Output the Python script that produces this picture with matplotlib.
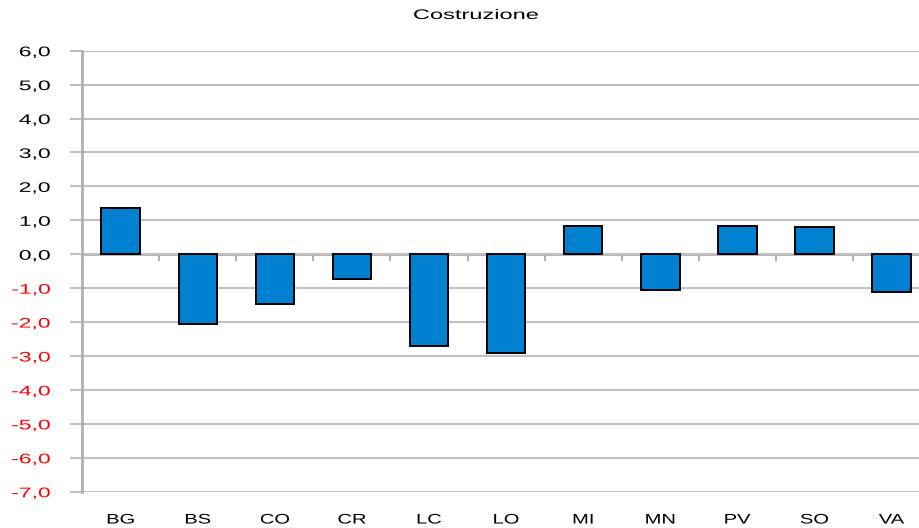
import matplotlib
matplotlib.use("Agg")
import matplotlib.pyplot as plt
import matplotlib.patheffects as pe
from matplotlib.transforms import Affine2D
import numpy as np

provinces = ["BG", "BS", "CO", "CR", "LC", "LO", "MI", "MN", "PV", "SO", "VA"]
values = [1.35, -2.05, -1.47, -0.74, -2.70, -2.90, 0.84, -1.04, 0.84, 0.79, -1.10]
y_ticks = [6, 5, 4, 3, 2, 1, 0, -1, -2, -3, -4, -5, -6, -7]
title = "Costruzione"

plt.rcParams["font.family"] = ["Liberation Sans", "DejaVu Sans"]
plt.rcParams["font.size"] = 10

BAR_COLOR = "#0080d0"
GRID_COLOR = "#c0c0c0"
AXIS_COLOR = "#b0b0b0"
STRETCH = 1.65   # the source renders its text horizontally widened


class Widen(pe.AbstractPathEffect):
    """Draw text glyphs stretched horizontally about a chosen edge."""

    def __init__(self, sx, anchor="center"):
        super().__init__()
        self.sx = sx
        self.anchor = anchor

    def draw_path(self, renderer, gc, tpath, affine, rgbFace=None):
        bb = tpath.get_extents(affine)
        x0 = {"left": bb.x0, "right": bb.x1,
              "center": 0.5 * (bb.x0 + bb.x1)}[self.anchor]
        t = affine + Affine2D().translate(-x0, 0).scale(self.sx, 1).translate(x0, 0)
        renderer.draw_path(gc, tpath, t, rgbFace)


fig = plt.figure(figsize=(9.19, 5.28), dpi=100)
W, H = 919, 528
left_px, right_px = 82.2, 930.0
top_px, bot_px = 50.7, 491.7
ax = fig.add_axes([left_px / W, 1 - bot_px / H,
                   (right_px - left_px) / W, (bot_px - top_px) / H])

x = np.arange(len(provinces))
ax.bar(x, values, width=0.5, color=BAR_COLOR, edgecolor="black",
       linewidth=1.4, zorder=3)

ax.set_xlim(-0.5, len(provinces) - 0.5)
ax.set_ylim(-7, 6)
ax.set_yticks(y_ticks)
ax.set_yticklabels([f"{v:.1f}".replace(".", ",") for v in y_ticks])
for lab, v in zip(ax.get_yticklabels(), y_ticks):
    lab.set_color("red" if v < 0 else "black")
    lab.set_path_effects([Widen(STRETCH, "right")])
ax.yaxis.grid(True, color=GRID_COLOR, linewidth=1.5, zorder=0)
ax.tick_params(axis="y", length=8.6, width=1.5, color=GRID_COLOR, pad=14.4)

ax.set_xticks(x)
ax.set_xticklabels(provinces)
ax.tick_params(axis="x", length=0, pad=15)
for lab in ax.get_xticklabels():
    lab.set_path_effects([Widen(1.45, "center")])

for s in ("top", "right", "bottom"):
    ax.spines[s].set_visible(False)
ax.spines["left"].set_color(AXIS_COLOR)
ax.spines["left"].set_linewidth(2)

# category axis drawn at y = 0 with tick marks between categories
sec = ax.secondary_xaxis(0, transform=ax.transData)
sec.set_xticks(np.arange(len(provinces) + 1) - 0.5)
sec.set_xticklabels([])
sec.tick_params(length=5, width=1.5, color=AXIS_COLOR, direction="out")
sec.spines["bottom"].set_color(AXIS_COLOR)
sec.spines["bottom"].set_linewidth(2)

fig.text(476 / W, 1 - 15 / H, title, ha="center", va="center",
         path_effects=[Widen(1.7, "center")])

fig.savefig("out.png", dpi=100)
